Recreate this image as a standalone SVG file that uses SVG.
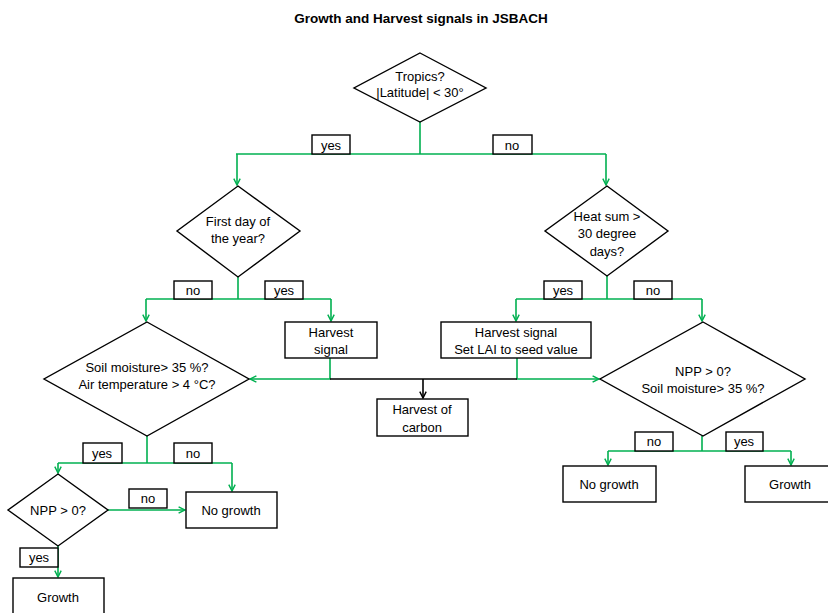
<svg xmlns="http://www.w3.org/2000/svg" width="828" height="613" viewBox="0 0 828 613">
<style>
.g{fill:none;stroke:#00B050;stroke-width:1.6}
.k{fill:none;stroke:#000;stroke-width:1.6}
.shape{fill:#fff;stroke:#000;stroke-width:1.4}
.lbl{fill:#fff;stroke:#000;stroke-width:1.4}
text{font-family:"Liberation Sans",Arial,sans-serif;font-size:13px;fill:#000;text-anchor:middle;dominant-baseline:central}
.title{font-weight:bold;font-size:13.5px}
</style>
<defs>
<marker id="ag" viewBox="0 0 10 10" refX="9" refY="5" markerWidth="8" markerHeight="8" markerUnits="userSpaceOnUse" orient="auto">
<path d="M1,1 L9,5 L1,9" fill="none" stroke="#00B050" stroke-width="1.8"/>
</marker>
<marker id="ak" viewBox="0 0 10 10" refX="9" refY="5" markerWidth="8" markerHeight="8" markerUnits="userSpaceOnUse" orient="auto">
<path d="M1,1 L9,5 L1,9" fill="none" stroke="#000" stroke-width="1.8"/>
</marker>
</defs>
<text class="title" x="421" y="18">Growth and Harvest signals in JSBACH</text>

<g id="connectors">
<path class="g" d="M420,122 V154"/>
<path class="g" d="M236,154 H606"/>
<path class="g" d="M237,154 V185" marker-end="url(#ag)"/>
<path class="g" d="M606,154 V185" marker-end="url(#ag)"/>
<path class="g" d="M238,277 V299"/>
<path class="g" d="M146,299 H331"/>
<path class="g" d="M146,299 V321" marker-end="url(#ag)"/>
<path class="g" d="M331,299 V321" marker-end="url(#ag)"/>
<path class="g" d="M607,276 V299"/>
<path class="g" d="M516,299 H702"/>
<path class="g" d="M516,299 V321" marker-end="url(#ag)"/>
<path class="g" d="M702,299 V321" marker-end="url(#ag)"/>
<path class="g" d="M330,358 V379 H250" marker-end="url(#ag)"/>
<path class="g" d="M517,358 V379 H599" marker-end="url(#ag)"/>
<path class="k" d="M330,379 H517"/>
<path class="k" d="M423,379 V398" marker-end="url(#ak)"/>
<path class="g" d="M147,436 V463"/>
<path class="g" d="M58,463 H232"/>
<path class="g" d="M58,463 V473" marker-end="url(#ag)"/>
<path class="g" d="M232,463 V491" marker-end="url(#ag)"/>
<path class="g" d="M108,510 H185" marker-end="url(#ag)"/>
<path class="g" d="M58,546 V577" marker-end="url(#ag)"/>
<path class="g" d="M702,436 V451"/>
<path class="g" d="M608,451 H791"/>
<path class="g" d="M608,451 V465" marker-end="url(#ag)"/>
<path class="g" d="M791,451 V465" marker-end="url(#ag)"/>
</g>

<g id="labels">
<rect class="lbl" x="312" y="135" width="38" height="19"/><text x="331" y="145">yes</text>
<rect class="lbl" x="493" y="135" width="39" height="19"/><text x="512" y="145">no</text>
<rect class="lbl" x="174" y="281" width="38" height="18"/><text x="193" y="290">no</text>
<rect class="lbl" x="265" y="281" width="38" height="18"/><text x="284" y="290">yes</text>
<rect class="lbl" x="544" y="281" width="38" height="18"/><text x="563" y="290">yes</text>
<rect class="lbl" x="634" y="281" width="38" height="18"/><text x="653" y="290">no</text>
<rect class="lbl" x="83" y="443" width="39" height="20"/><text x="102" y="453">yes</text>
<rect class="lbl" x="174" y="443" width="38" height="20"/><text x="193" y="453">no</text>
<rect class="lbl" x="129" y="489" width="38" height="19"/><text x="148" y="498">no</text>
<rect class="lbl" x="20" y="548" width="38" height="19"/><text x="39" y="557">yes</text>
<rect class="lbl" x="635" y="432" width="38" height="19"/><text x="654" y="441">no</text>
<rect class="lbl" x="726" y="432" width="37" height="19"/><text x="744" y="441">yes</text>
</g>

<g id="tropics">
<polygon class="shape" points="420,53 486,88 420,122 354,88"/>
<text x="420" y="76">Tropics?</text>
<text x="420" y="92">|Latitude| &lt; 30°</text>
</g>
<g id="firstday">
<polygon class="shape" points="238,186 300,231 238,277 177,231"/>
<text x="238" y="221">First day of</text>
<text x="238" y="238">the year?</text>
</g>
<g id="heatsum">
<polygon class="shape" points="607,186 668,231 607,276 545,231"/>
<text x="607" y="216">Heat sum &gt;</text>
<text x="607" y="233">30 degree</text>
<text x="607" y="251">days?</text>
</g>
<g id="harvest1">
<rect class="shape" x="285" y="322" width="92" height="36"/>
<text x="331" y="332">Harvest</text>
<text x="331" y="349">signal</text>
</g>
<g id="harvest2">
<rect class="shape" x="441" y="322" width="150" height="36"/>
<text x="516" y="332">Harvest signal</text>
<text x="516" y="349">Set LAI to seed value</text>
</g>
<g id="soil">
<polygon class="shape" points="147,322 249,379 147,436 44,379"/>
<text x="147" y="367">Soil moisture&gt; 35 %?</text>
<text x="147" y="384">Air temperature &gt; 4 °C?</text>
</g>
<g id="nppsoil">
<polygon class="shape" points="703,322 805,379 703,436 600,379"/>
<text x="703" y="371">NPP &gt; 0?</text>
<text x="703" y="388">Soil moisture&gt; 35 %?</text>
</g>
<g id="harvestcarbon">
<rect class="shape" x="377" y="399" width="91" height="37"/>
<text x="422" y="409">Harvest of</text>
<text x="422" y="427">carbon</text>
</g>
<g id="npp">
<polygon class="shape" points="58,474 108,510 58,546 8,510"/>
<text x="58" y="510">NPP &gt; 0?</text>
</g>
<g id="nogrowth1">
<rect class="shape" x="186" y="492" width="91" height="36"/>
<text x="231" y="510">No growth</text>
</g>
<g id="growth1">
<rect class="shape" x="13" y="578" width="91" height="40"/>
<text x="58" y="597">Growth</text>
</g>
<g id="nogrowth2">
<rect class="shape" x="563" y="466" width="93" height="36"/>
<text x="609" y="484">No growth</text>
</g>
<g id="growth2">
<rect class="shape" x="745" y="466" width="90" height="36"/>
<text x="790" y="484">Growth</text>
</g>
</svg>
